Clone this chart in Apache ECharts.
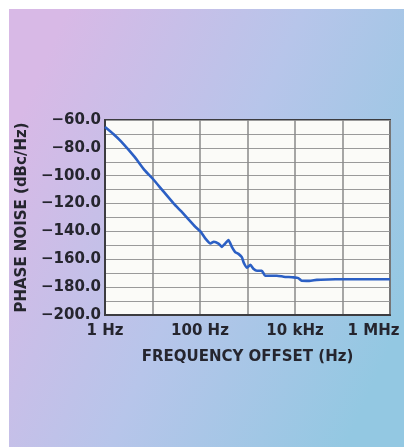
<!DOCTYPE html>
<html>
<head>
<meta charset="utf-8">
<script src="https://cdn.jsdelivr.net/npm/echarts@6/dist/echarts.min.js"></script>
<style>
html,body{margin:0;padding:0;background:#fff;}
#chart{width:404px;height:447px;}
</style>
</head>
<body>
<div id="chart"></div>
<script>
// Offset frequency (Hz)
var freqHz = [1, 1.5, 2.2, 4.2, 6.8, 10, 15.8, 28, 40, 58, 79, 102, 129, 166, 195, 245, 288, 339, 398, 468, 550, 646, 759, 832, 977, 1150, 1350, 1585, 2000, 2340, 3020, 4170, 5750, 9330, 11750, 13800, 20000, 28800, 50000, 100000, 316000, 1000000];
// Phase noise (dBc/Hz)
var phaseNoise = [-65, -70, -75.5, -86.5, -96, -102, -110, -120, -125.5, -131.5, -136.5, -140, -145, -148.7, -147.4, -148.7, -151.1, -148.7, -146.2, -151.1, -154.8, -156.1, -158.5, -162.4, -166, -164, -167, -168.2, -168.2, -171.8, -171.8, -171.8, -172.5, -173, -173.5, -175.4, -175.5, -174.8, -174.5, -174.3, -174.3, -174.3];
var xTickValues = [1, 100, 10000, 1000000];
var xTickLabels = ['1 Hz', '100 Hz', '10 kHz', '1 MHz'];
var yTickValues = [-200, -180, -160, -140, -120, -100, -80, -60];
var yTickLabels = ['\u2212200.0', '\u2212180.0', '\u2212160.0', '\u2212140.0', '\u2212120.0', '\u2212100.0', '\u221280.0', '\u221260.0'];
var xAxisTitle = 'FREQUENCY OFFSET (Hz)';
var yAxisTitle = 'PHASE NOISE (dBc/Hz)';

var chart = echarts.init(document.getElementById('chart'), null, {renderer: 'canvas'});
var textColor = '#25252e';
var font = 'DejaVu Sans';

var seriesData = freqHz.map(function (f, i) { return [f, phaseNoise[i]]; });

chart.setOption({
  backgroundColor: '#ffffff',
  animation: false,
  graphic: [{
    type: 'rect',
    z: -10,
    silent: true,
    shape: {x: 9, y: 9, width: 395, height: 438},
    style: {
      fill: new echarts.graphic.LinearGradient(0, 0.3, 1, 0.7, [
        {offset: 0, color: '#d8b9e6'},
        {offset: 0.5, color: '#b7c5ea'},
        {offset: 1, color: '#93c8e2'}
      ])
    }
  }],
  grid: {
    left: 105, top: 120, right: 14, bottom: 132,
    show: true,
    backgroundColor: '#fbfbf8',
    borderColor: '#3c3c40',
    borderWidth: 2
  },
  xAxis: {
    type: 'log',
    logBase: 10,
    min: 1,
    max: 1000000,
    name: xAxisTitle,
    nameLocation: 'middle',
    nameGap: 35,
    nameTextStyle: {fontFamily: font, fontWeight: 'bold', fontSize: 15, color: textColor},
    axisLine: {show: true, lineStyle: {color: '#3c3c40', width: 2}},
    axisTick: {show: false},
    splitLine: {show: true, lineStyle: {color: '#8a8a8a', width: 1.5}},
    axisLabel: {
      margin: 9,
      fontFamily: font, fontWeight: 'bold', fontSize: 15, color: textColor,
      showMinLabel: true, showMaxLabel: true,
      formatter: function (v) {
        for (var i = 0; i < xTickValues.length; i++) {
          if (Math.abs(Math.log10(v) - Math.log10(xTickValues[i])) < 1e-6) {
            return i === xTickValues.length - 1 ? '{m|' + xTickLabels[i] + '}' : xTickLabels[i];
          }
        }
        return '';
      },
      rich: {
        m: {fontFamily: font, fontWeight: 'bold', fontSize: 15, color: textColor, padding: [0, 33, 0, 0]}
      }
    }
  },
  yAxis: {
    type: 'value',
    min: -200,
    max: -60,
    interval: 20,
    name: yAxisTitle,
    nameLocation: 'middle',
    nameGap: 69,
    nameTextStyle: {fontFamily: font, fontWeight: 'bold', fontSize: 15, color: textColor},
    axisLine: {show: true, lineStyle: {color: '#3c3c40', width: 2}},
    axisTick: {show: false},
    splitLine: {show: true, lineStyle: {color: '#9a9a9a', width: 1}},
    minorTick: {show: false, splitNumber: 2},
    minorSplitLine: {show: true, lineStyle: {color: '#9a9a9a', width: 1}},
    axisLabel: {
      margin: 4,
      fontFamily: font, fontWeight: 'bold', fontSize: 15, color: textColor,
      formatter: function (v) {
        var i = yTickValues.indexOf(v);
        return i >= 0 ? yTickLabels[i] : '';
      }
    }
  },
  series: [{
    type: 'line',
    data: seriesData,
    showSymbol: false,
    smooth: 0.15,
    lineStyle: {color: '#2b5fc4', width: 2.6},
    z: 5
  }]
});
</script>
</body>
</html>
